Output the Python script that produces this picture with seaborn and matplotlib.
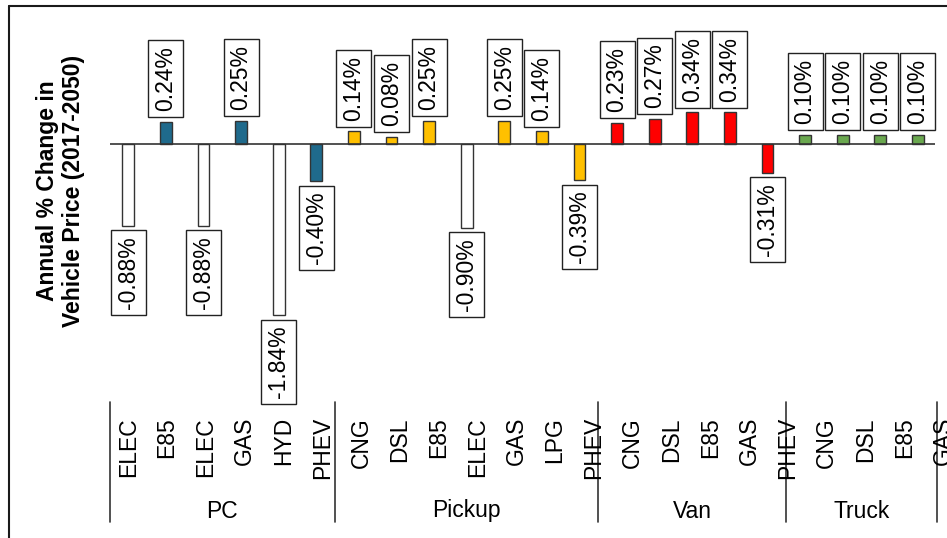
import matplotlib
matplotlib.use("Agg")
import matplotlib.pyplot as plt
from matplotlib.lines import Line2D
import seaborn as sns
import pandas as pd
import numpy as np

# ---- data ----
groups = ["PC", "Pickup", "Van", "Truck"]
group_sizes = [6, 7, 5, 4]
fuels = ["ELEC", "E85", "ELEC", "GAS", "HYD", "PHEV",
         "CNG", "DSL", "E85", "ELEC", "GAS", "LPG", "PHEV",
         "CNG", "DSL", "E85", "GAS", "PHEV",
         "CNG", "DSL", "E85", "GAS"]
values = [-0.88, 0.24, -0.88, 0.25, -1.84, -0.40,
          0.14, 0.08, 0.25, -0.90, 0.25, 0.14, -0.39,
          0.23, 0.27, 0.34, 0.34, -0.31,
          0.10, 0.10, 0.10, 0.10]
group_colors = {"PC": "#1F6A8C", "Pickup": "#FFC000", "Van": "#FF0000", "Truck": "#6AA84F"}
zero_emission = ["ELEC", "HYD"]

# ---- build table ----
grp_col = []
for g, n in zip(groups, group_sizes):
    grp_col += [g] * n
df = pd.DataFrame({"idx": np.arange(len(values)), "fuel": fuels,
                   "group": grp_col, "value": values})
palette = {}
for i, f, g in zip(df["idx"], df["fuel"], df["group"]):
    palette[i] = "#FFFFFF" if f in zero_emission else group_colors[g]

sns.set_theme(style="white")
plt.rcParams["font.family"] = ["Liberation Sans", "DejaVu Sans"]

W, H = 947, 538
fig = plt.figure(figsize=(W / 100, H / 100), dpi=100)
ax = fig.add_axes([0, 0, 1, 1])

sns.barplot(data=df, x="idx", y="value", hue="idx", palette=palette,
            native_scale=True, width=0.31, edgecolor="#333333",
            linewidth=1.0, saturation=1, legend=False, ax=ax, zorder=2)

# pixel mapping
x0_pix, dx_pix = 128.3, 37.6
y0_pix, dy_pix = 144.0, 93.0
ax.set_xlim(-x0_pix / dx_pix, (W - x0_pix) / dx_pix)
ax.set_ylim((y0_pix - H) / dy_pix, y0_pix / dy_pix)
ax.axis("off")

def vy(ypix):
    return (y0_pix - ypix) / dy_pix

n = len(values)
# zero line
ax.plot([-0.49, n - 0.55], [0, 0], color="#333333", lw=1.2, zorder=3,
        solid_capstyle="butt")

# value labels
fs = 16.5
for i, v in enumerate(values):
    off = 7.5 if v >= 0 else -7.5
    ax.annotate(f"{v:.2f}%", xy=(i, v), xytext=(0, off),
                textcoords="offset points", rotation=90,
                ha="center", va="bottom" if v >= 0 else "top",
                fontsize=fs, color="black", zorder=4,
                bbox=dict(boxstyle="square,pad=0.26", fc="white",
                          ec="#222222", lw=1.0))

# category tick labels (slightly wider spacing than the bars)
lab_step = 38.8 / dx_pix
for i, f in enumerate(fuels):
    ax.text(i * lab_step, vy(417), f, rotation=90, ha="center", va="top",
            fontsize=fs, color="black")

# group separators and labels
bounds = np.concatenate([[0], np.cumsum(group_sizes)]) - 0.5
for b in bounds:
    ax.plot([b, b], [vy(402), vy(522)], color="#333333", lw=1.2)
for g, a, b in zip(groups, bounds[:-1], bounds[1:]):
    ax.text((a + b) / 2, vy(511), g, ha="center", va="center",
            fontsize=fs, color="black")

# y-axis title
fig.text(60.5 / W, 1 - 191 / H, "Annual % Change in\nVehicle Price (2017-2050)",
         rotation=90, ha="center", va="center", ma="center",
         fontsize=fs, fontweight="bold", color="black")

# outer frame (cropped at right and bottom)
fig.add_artist(Line2D([8.5 / W, 8.5 / W], [1 - 5.5 / H, 0], transform=fig.transFigure,
                      color="#1A1A1A", lw=1.5))
fig.add_artist(Line2D([8.5 / W, 1], [1 - 5.5 / H, 1 - 5.5 / H], transform=fig.transFigure,
                      color="#1A1A1A", lw=1.5))

fig.savefig("out.png", dpi=100)
